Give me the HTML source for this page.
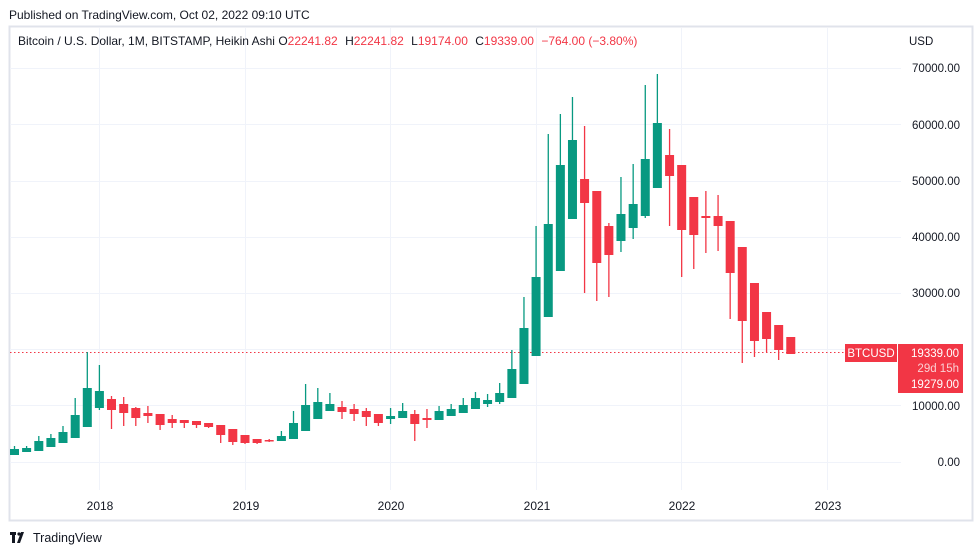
<!DOCTYPE html>
<html><head><meta charset="utf-8"><style>
body{margin:0;background:#fff;width:979px;height:555px;overflow:hidden}
svg{display:block}
text{font-family:"Liberation Sans",sans-serif;}
</style></head><body>
<svg width="979" height="555" viewBox="0 0 979 555" xmlns="http://www.w3.org/2000/svg">
<rect width="979" height="555" fill="#fff"/>
<text x="9" y="19" font-size="12" fill="#131722">Published on TradingView.com, Oct 02, 2022 09:10 UTC</text>
<rect x="9.5" y="26.5" width="963" height="494" fill="none" stroke="#e0e3eb" stroke-width="2"/>
<g stroke="#f0f3fa" stroke-width="1">
<line x1="10" x2="901" y1="462.5" y2="462.5"/><line x1="10" x2="901" y1="405.5" y2="405.5"/>
<line x1="10" x2="901" y1="349.5" y2="349.5"/><line x1="10" x2="901" y1="293.5" y2="293.5"/>
<line x1="10" x2="901" y1="237.5" y2="237.5"/><line x1="10" x2="901" y1="181.5" y2="181.5"/>
<line x1="10" x2="901" y1="124.5" y2="124.5"/><line x1="10" x2="901" y1="68.5" y2="68.5"/>
<line x1="99.5" x2="99.5" y1="28" y2="490"/><line x1="245.5" x2="245.5" y1="28" y2="490"/>
<line x1="390.5" x2="390.5" y1="28" y2="490"/><line x1="536.5" x2="536.5" y1="28" y2="490"/>
<line x1="681.5" x2="681.5" y1="28" y2="490"/><line x1="827.5" x2="827.5" y1="28" y2="490"/>
</g>
<text x="18" y="45" font-size="12" fill="#131722">Bitcoin / U.S. Dollar, 1M, BITSTAMP, Heikin Ashi <tspan>O</tspan><tspan fill="#f23645">22241.82</tspan> <tspan dx="4">H</tspan><tspan fill="#f23645">22241.82</tspan> <tspan dx="4">L</tspan><tspan fill="#f23645">19174.00</tspan> <tspan dx="4">C</tspan><tspan fill="#f23645">19339.00</tspan> <tspan dx="4" fill="#f23645">−764.00 (−3.80%)</tspan></text>
<text x="909" y="45" font-size="11.5" fill="#131722">USD</text>
<g font-size="11.5" fill="#131722" text-anchor="end">
<text x="960" y="72">70000.00</text><text x="960" y="129">60000.00</text><text x="960" y="185">50000.00</text>
<text x="960" y="241">40000.00</text><text x="960" y="297">30000.00</text><text x="960" y="410">10000.00</text>
<text x="960" y="466">0.00</text>
</g>
<g font-size="12" fill="#131722" text-anchor="middle">
<text x="100" y="510">2018</text><text x="246" y="510">2019</text><text x="391" y="510">2020</text>
<text x="537" y="510">2021</text><text x="682" y="510">2022</text><text x="828" y="510">2023</text>
</g>
<line x1="10" x2="845" y1="352.5" y2="352.5" stroke="#f23645" stroke-dasharray="1.5,2.5"/>
<g stroke="#089981" stroke-width="1.3" fill="none">
<path d="M14.5 446V455M26.6 446V452M38.8 436V451M50.9 434V447M63 426V443M75.2 398V438M87.3 352V427M99.4 365V410M281.4 431V441M293.5 411V439M305.6 384V431M317.8 388V419M329.9 393V411"/>
</g>
<g fill="#089981">
<rect x="10" y="449" width="9" height="6"/><rect x="22.1" y="448" width="9" height="4"/><rect x="34.3" y="441" width="9" height="10"/><rect x="46.4" y="438" width="9" height="9"/><rect x="58.5" y="432" width="9" height="11"/><rect x="70.7" y="415" width="9" height="23"/><rect x="82.8" y="388" width="9" height="39"/><rect x="94.9" y="391" width="9" height="17"/>
<rect x="276.9" y="436" width="9" height="5"/><rect x="289" y="423" width="9" height="16"/><rect x="301.1" y="405" width="9" height="26"/><rect x="313.3" y="402" width="9" height="17"/><rect x="325.4" y="404" width="9" height="7"/>
</g>
<g stroke="#f23645" stroke-width="1.3" fill="none">
<path d="M111.5 396V429M123.7 397V426M135.8 407V426M147.9 406V423M160.1 414V430M172.2 415V428M184.3 420V428M196.5 421V428M208.6 423V428M220.7 425V443M232.8 429V445M245 435V444M257.1 439V444M269.2 439V442M342 401V419M354.1 404V421M366.3 408V426M378.4 414V426"/>
</g>
<g fill="#f23645">
<rect x="107" y="399" width="9" height="11"/><rect x="119.2" y="404" width="9" height="9"/><rect x="131.3" y="408" width="9" height="10"/><rect x="143.4" y="413" width="9" height="3"/><rect x="155.6" y="414" width="9" height="11"/><rect x="167.7" y="419" width="9" height="4"/><rect x="179.8" y="420" width="9" height="3"/><rect x="192" y="421" width="9" height="4"/><rect x="204.1" y="423" width="9" height="4"/><rect x="216.2" y="425" width="9" height="10"/><rect x="228.3" y="429" width="9" height="13"/><rect x="240.5" y="435" width="9" height="8"/><rect x="252.6" y="439" width="9" height="4"/><rect x="264.7" y="440" width="9" height="1.5"/>
<rect x="337.5" y="407" width="9" height="5"/><rect x="349.6" y="409" width="9" height="5"/><rect x="361.8" y="411" width="9" height="6"/><rect x="373.9" y="414" width="9" height="9"/>
</g>
<g transform="translate(-12.13,0)">
<g stroke="#089981" stroke-width="1.3" fill="none">
<path d="M402.7 408V424M414.8 403V418M451.2 406V420M463.3 404V416M475.4 398V413M487.6 392V409M499.7 394V407M511.8 383V404M524 350V398M536.1 297V384M548.2 226V356M560.4 134V317M572.5 114V271M584.6 97V219M633.1 177V252M645.3 164V239M657.4 85V218M669.5 74V188"/>
</g>
<g fill="#089981">
<rect x="398.2" y="416" width="9" height="3"/><rect x="410.3" y="411" width="9" height="7"/><rect x="446.7" y="411" width="9" height="9"/><rect x="458.8" y="409" width="9" height="7"/><rect x="470.9" y="405" width="9" height="8"/><rect x="483.1" y="398" width="9" height="11"/><rect x="495.2" y="400" width="9" height="4"/><rect x="507.3" y="393" width="9" height="9"/>
<rect x="519.5" y="369" width="9" height="29"/><rect x="531.6" y="328" width="9" height="56"/><rect x="543.7" y="277" width="9" height="79"/><rect x="555.9" y="224" width="9" height="93"/><rect x="568" y="165" width="9" height="106"/><rect x="580.1" y="140" width="9" height="79"/>
<rect x="628.6" y="214" width="9" height="27"/><rect x="640.8" y="204" width="9" height="24"/><rect x="652.9" y="159" width="9" height="57"/><rect x="665" y="123" width="9" height="65"/>
</g>
<g stroke="#f23645" stroke-width="1.3" fill="none">
<path d="M426.9 410V441M439.1 409V428M596.7 126V293M608.9 191V301M621 223V297M681.7 129V226M693.8 165V277M705.9 197V269M718 191V253M730.2 195V251M742.3 221V319M754.4 247V363M766.6 283V357M778.7 312V352M790.8 325V360"/>
</g>
<g fill="#f23645">
<rect x="422.4" y="414" width="9" height="10"/><rect x="434.6" y="418" width="9" height="2"/>
<rect x="592.2" y="179" width="9" height="24"/><rect x="604.4" y="191" width="9" height="72"/><rect x="616.5" y="226" width="9" height="29"/>
<rect x="677.2" y="155" width="9" height="21"/><rect x="689.3" y="165" width="9" height="65"/><rect x="701.4" y="197" width="9" height="38"/><rect x="713.5" y="216" width="9" height="2"/><rect x="725.7" y="216" width="9" height="10"/><rect x="737.8" y="221" width="9" height="52"/><rect x="749.9" y="247" width="9" height="74"/><rect x="762.1" y="283" width="9" height="58"/><rect x="774.2" y="312" width="9" height="27"/><rect x="786.3" y="325" width="9" height="25"/><rect x="798.4" y="337" width="9" height="17"/>
</g>
</g>
<rect x="845" y="344" width="52" height="18" fill="#f23645"/>
<text x="871" y="357" font-size="11.5" fill="#fff" text-anchor="middle">BTCUSD</text>
<rect x="898" y="344" width="65" height="49" fill="#f23645"/>
<text x="959" y="357" font-size="11.5" fill="#fff" text-anchor="end">19339.00</text>
<text x="959" y="372" font-size="11.5" fill="#fbd0d4" text-anchor="end">29d 15h</text>
<text x="959" y="388" font-size="11.5" fill="#fff" text-anchor="end">19279.00</text>
<g fill="#131722"><rect x="10" y="532" width="6" height="3"/><rect x="12" y="532" width="3" height="11"/><circle cx="19" cy="534" r="1.6"/><path d="M21 532h3l-4 11h-3z"/></g>
<text x="33" y="542" font-size="12.5" fill="#131722">TradingView</text>
</svg>
</body></html>
